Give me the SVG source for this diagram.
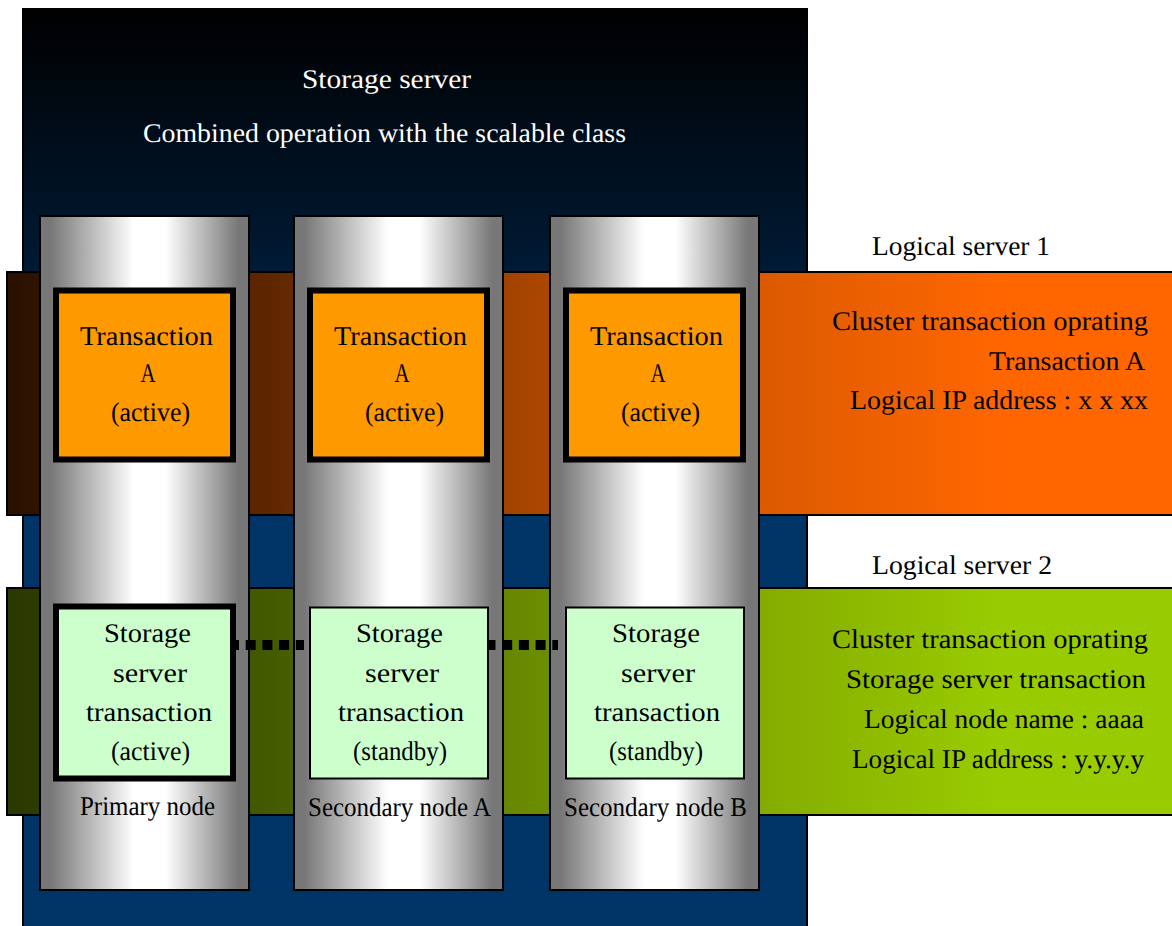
<svg xmlns="http://www.w3.org/2000/svg" width="1172" height="926" viewBox="0 0 1172 926">
<style>
text{font-family:"Liberation Serif","Times New Roman",serif;font-size:27px;fill:#000;text-rendering:geometricPrecision}
text.w{fill:#fff}
.f{stroke:#000;stroke-width:2}
.col{fill:url(#cyl)}
.o{fill:#f90;stroke:#000;stroke-width:6}
.g{fill:#cfc;stroke:#000;stroke-width:6}
.s{fill:#cfc;stroke:#000;stroke-width:2}
.d{fill:none;stroke:#000;stroke-width:10;stroke-dasharray:10 6.7}
</style>
<defs>
<linearGradient id="bg" gradientUnits="userSpaceOnUse" x1="0" y1="9" x2="0" y2="515"><stop offset="0" stop-color="#000"/><stop offset="1" stop-color="#036"/></linearGradient>
<linearGradient id="cyl" x1="0" y1="0" x2="1" y2="0"><stop offset="0" stop-color="#777"/><stop offset=".05" stop-color="#777"/><stop offset=".45" stop-color="#fff"/><stop offset=".6" stop-color="#fff"/><stop offset=".95" stop-color="#777"/><stop offset="1" stop-color="#777"/></linearGradient>
<linearGradient id="b1" gradientUnits="userSpaceOnUse" x1="7" y1="0" x2="1000" y2="0"><stop offset="0" stop-color="#291100"/><stop offset=".265" stop-color="#5f2700"/><stop offset=".522" stop-color="#a64500"/><stop offset=".77" stop-color="#dd5b00"/><stop offset="1" stop-color="#f60"/></linearGradient>
<linearGradient id="b2" gradientUnits="userSpaceOnUse" x1="7" y1="0" x2="1000" y2="0"><stop offset="0" stop-color="#2a3800"/><stop offset=".265" stop-color="#445a00"/><stop offset=".522" stop-color="#6a8a00"/><stop offset=".77" stop-color="#85ad00"/><stop offset="1" stop-color="#9c0"/></linearGradient>
</defs>
<g id="storage-server">
<rect class="f" x="23" y="9" width="784" height="930" fill="url(#bg)"/>
<text class="w" x="302" y="88" textLength="169" lengthAdjust="spacingAndGlyphs">Storage server</text>
<text class="w" x="143" y="142" textLength="483" lengthAdjust="spacingAndGlyphs">Combined operation with the scalable class</text>
</g>
<g id="logical-server-1">
<rect class="f" x="7" y="272" width="1180" height="243" fill="url(#b1)"/>
<text x="872" y="255" textLength="178" lengthAdjust="spacingAndGlyphs">Logical server 1</text>
<text x="832" y="330" textLength="316" lengthAdjust="spacingAndGlyphs">Cluster transaction oprating</text>
<text x="989" y="370" textLength="156" lengthAdjust="spacingAndGlyphs">Transaction A</text>
<text x="850" y="409" textLength="298" lengthAdjust="spacingAndGlyphs">Logical IP address : x x xx</text>
</g>
<g id="logical-server-2">
<rect class="f" x="7" y="588" width="1180" height="227" fill="url(#b2)"/>
<text x="872" y="574" textLength="180" lengthAdjust="spacingAndGlyphs">Logical server 2</text>
<text x="832" y="648" textLength="316" lengthAdjust="spacingAndGlyphs">Cluster transaction oprating</text>
<text x="846" y="688" textLength="300" lengthAdjust="spacingAndGlyphs">Storage server transaction</text>
<text x="864" y="728" textLength="280" lengthAdjust="spacingAndGlyphs">Logical node name : aaaa</text>
<text x="852" y="768" textLength="292" lengthAdjust="spacingAndGlyphs">Logical IP address : y.y.y.y</text>
</g>
<g id="primary-node">
<rect class="f col" x="40" y="216" width="209" height="674"/>
<text x="80" y="815" textLength="135" lengthAdjust="spacingAndGlyphs">Primary node</text>
</g>
<g id="secondary-node-a">
<rect class="f col" x="294" y="216" width="209" height="674"/>
<text x="308" y="816" textLength="183" lengthAdjust="spacingAndGlyphs">Secondary node A</text>
</g>
<g id="secondary-node-b">
<rect class="f col" x="550" y="216" width="209" height="674"/>
<text x="564" y="816" textLength="183" lengthAdjust="spacingAndGlyphs">Secondary node B</text>
</g>
<g id="connectors">
<line class="d" x1="229" y1="645" x2="304" y2="645"/>
<line class="d" x1="485.500" y1="645" x2="558" y2="645"/>
</g>
<g id="transaction-a-1">
<rect class="o" x="56" y="290.5" width="177" height="169"/>
<text x="80" y="345" textLength="133" lengthAdjust="spacingAndGlyphs">Transaction</text>
<text x="140.500" y="382" textLength="15" lengthAdjust="spacingAndGlyphs">A</text>
<text x="111" y="421" textLength="79" lengthAdjust="spacingAndGlyphs">(active)</text>
</g>
<g id="transaction-a-2">
<rect class="o" x="310" y="290.5" width="177" height="169"/>
<text x="334" y="345" textLength="133" lengthAdjust="spacingAndGlyphs">Transaction</text>
<text x="394.500" y="382" textLength="15" lengthAdjust="spacingAndGlyphs">A</text>
<text x="365" y="421" textLength="79" lengthAdjust="spacingAndGlyphs">(active)</text>
</g>
<g id="transaction-a-3">
<rect class="o" x="566" y="290.5" width="177" height="169"/>
<text x="590" y="345" textLength="133" lengthAdjust="spacingAndGlyphs">Transaction</text>
<text x="650.500" y="382" textLength="15" lengthAdjust="spacingAndGlyphs">A</text>
<text x="621" y="421" textLength="79" lengthAdjust="spacingAndGlyphs">(active)</text>
</g>
<g id="storage-transaction-1">
<rect class="g" x="56" y="606.5" width="177" height="172"/>
<text x="104" y="642" textLength="87" lengthAdjust="spacingAndGlyphs">Storage</text>
<text x="113" y="682" textLength="74" lengthAdjust="spacingAndGlyphs">server</text>
<text x="86" y="721" textLength="126" lengthAdjust="spacingAndGlyphs">transaction</text>
<text x="111" y="760" textLength="79" lengthAdjust="spacingAndGlyphs">(active)</text>
</g>
<g id="storage-transaction-2">
<rect class="s" x="310" y="607.5" width="178" height="171"/>
<text x="356" y="642" textLength="87" lengthAdjust="spacingAndGlyphs">Storage</text>
<text x="365" y="682" textLength="74" lengthAdjust="spacingAndGlyphs">server</text>
<text x="338" y="721" textLength="126" lengthAdjust="spacingAndGlyphs">transaction</text>
<text x="353" y="760" textLength="94" lengthAdjust="spacingAndGlyphs">(standby)</text>
</g>
<g id="storage-transaction-3">
<rect class="s" x="566" y="607.5" width="178" height="171"/>
<text x="612" y="642" textLength="88" lengthAdjust="spacingAndGlyphs">Storage</text>
<text x="621" y="682" textLength="74" lengthAdjust="spacingAndGlyphs">server</text>
<text x="594" y="721" textLength="126" lengthAdjust="spacingAndGlyphs">transaction</text>
<text x="609" y="760" textLength="94" lengthAdjust="spacingAndGlyphs">(standby)</text>
</g>
</svg>
